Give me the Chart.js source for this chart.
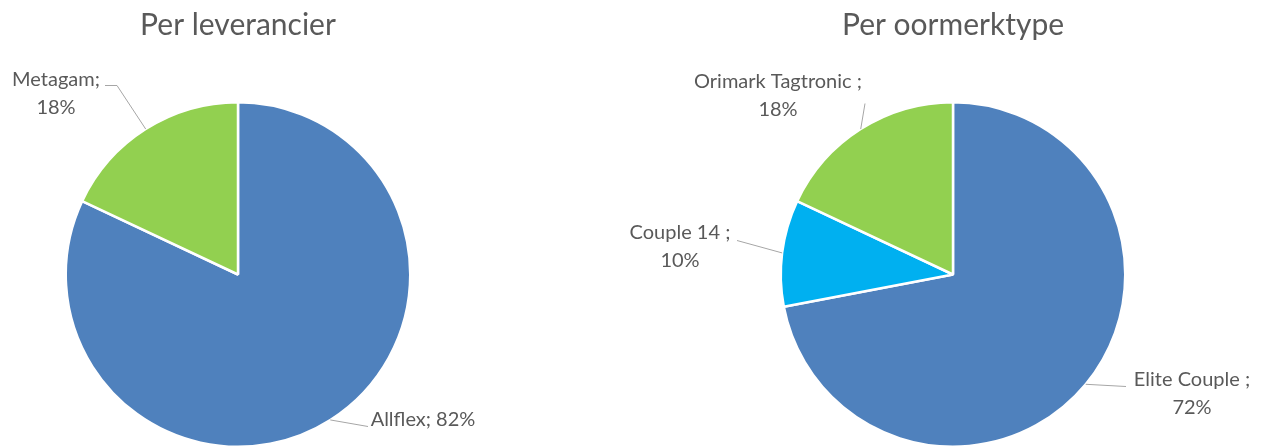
<!DOCTYPE html>
<html>
<head>
<meta charset="utf-8">
<script src="https://cdn.jsdelivr.net/npm/chart.js@4"></script>
<style>
  html, body { margin: 0; padding: 0; background: #fff; overflow: hidden; }
  #wrap { position: relative; width: 1266px; height: 448px; }
  canvas { position: absolute; left: 0; top: 0; }
</style>
</head>
<body>
<div id="wrap">
  <canvas id="supplierChart" width="1266" height="448"></canvas>
  <canvas id="typeChart" width="1266" height="448"></canvas>
</div>
<script>
// data
const supplierLabels = ['Allflex', 'Metagam'];
const supplierValues = [82, 18];
const typeLabels = ['Elite Couple ', 'Couple 14 ', 'Orimark Tagtronic '];
const typeValues = [72, 10, 18];

const BLUE = '#4F81BD', GREEN = '#92D050', CYAN = '#00B0F0';
const TEXT = '#595959';
const FONT = 'Lato, "Open Sans", sans-serif';

// label placement relative to the pie centre (x of text centre, y of first baseline)
// and where the leader line meets the label
const supplierLabelPos = [
    { dx: 185, dy: 151, wrap: false, ax: 130, ay: 152 },
    { dx: -182, dy: -189, wrap: true, ax: -133, ay: -189, kx: -121, ky: -189 }
];
const typeLabelPos = [
    { dx: 239, dy: 111, wrap: true, ax: 173, ay: 112 },
    { dx: -273, dy: -36, wrap: true, ax: -216, ay: -34 },
    { dx: -175, dy: -187, wrap: true, ax: -88, ay: -171 }
];

const pieLabels = {
    id: 'pieLabels',
    afterDatasetsDraw(chart, args, opts) {
        const ctx = chart.ctx;
        const meta = chart.getDatasetMeta(0);
        const values = chart.data.datasets[0].data;
        const total = values.reduce((a, b) => a + b, 0);
        meta.data.forEach((arc, i) => {
            const p = arc.getProps(['x', 'y', 'startAngle', 'endAngle', 'outerRadius'], true);
            const mid = (p.startAngle + p.endAngle) / 2;
            const ex = p.x + Math.cos(mid) * p.outerRadius;
            const ey = p.y + Math.sin(mid) * p.outerRadius;
            const pos = opts.positions[i];
            const pct = Math.round(values[i] / total * 100) + '%';
            const name = chart.data.labels[i] + ';';
            const lines = pos.wrap ? [name, pct] : [name + ' ' + pct];

            ctx.save();
            ctx.strokeStyle = '#A6A6A6';
            ctx.lineWidth = 1;
            ctx.beginPath();
            ctx.moveTo(ex, ey);
            if (pos.kx !== undefined) ctx.lineTo(p.x + pos.kx, p.y + pos.ky);
            ctx.lineTo(p.x + pos.ax, p.y + pos.ay);
            ctx.stroke();

            ctx.fillStyle = TEXT;
            ctx.font = '20px ' + FONT;
            ctx.textAlign = 'center';
            ctx.textBaseline = 'alphabetic';
            lines.forEach((t, j) => {
                ctx.fillText(t, p.x + pos.dx, p.y + pos.dy + j * 28);
            });
            ctx.restore();
        });
    }
};

function makePie(id, labels, values, colors, title, padding, positions) {
    return new Chart(document.getElementById(id), {
        type: 'pie',
        data: {
            labels: labels,
            datasets: [{
                data: values,
                backgroundColor: colors,
                borderColor: '#ffffff',
                borderWidth: 2.5
            }]
        },
        options: {
            responsive: false,
            animation: false,
            events: [],
            layout: { padding: padding },
            plugins: {
                legend: { display: false },
                tooltip: { enabled: false },
                title: {
                    display: true,
                    text: title,
                    color: TEXT,
                    font: { family: FONT, size: 30, weight: 'normal' },
                    padding: { top: 7, bottom: 58 }
                },
                pieLabels: { positions: positions }
            }
        },
        plugins: [pieLabels]
    });
}

makePie('supplierChart', supplierLabels, supplierValues, [BLUE, GREEN],
    'Per leverancier', { left: 0, right: 790, top: 0, bottom: -4 }, supplierLabelPos);
makePie('typeChart', typeLabels, typeValues, [BLUE, CYAN, GREEN],
    'Per oormerktype', { left: 653, right: 13, top: 0, bottom: -4 }, typeLabelPos);
</script>
</body>
</html>
